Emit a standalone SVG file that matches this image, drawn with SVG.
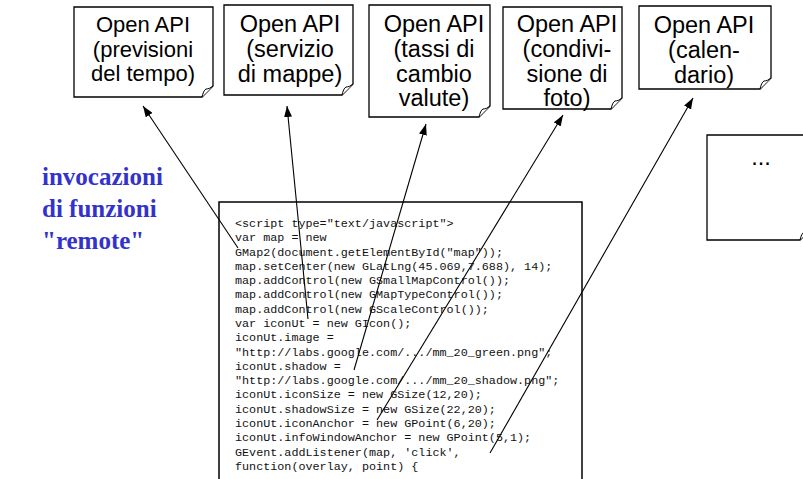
<svg xmlns="http://www.w3.org/2000/svg" width="803" height="479" viewBox="0 0 803 479">
<style>
.box{fill:#fff;stroke:#000;stroke-width:1.3}
.flap{fill:#fff;stroke:#000;stroke-width:1}
.bt{font-family:"Liberation Sans",Arial,sans-serif;font-size:23.5px;fill:#000;text-anchor:middle}
.code{font-family:"Liberation Mono","Courier New",monospace;font-size:11.75px;fill:#111}
.title{font-family:"Liberation Serif","Times New Roman",serif;font-size:25px;font-weight:bold;fill:#3333CC}
.conn{stroke:#000;stroke-width:1.1;fill:none;marker-end:url(#arr)}
</style>
<defs>
<marker id="arr" markerUnits="userSpaceOnUse" markerWidth="11" markerHeight="8" refX="11" refY="4" orient="auto">
<path d="M0,0 L11,4 L0,8 z" fill="#000"/>
</marker>
</defs>
<rect width="803" height="479" fill="#fff"/>

<g id="api1">
<path class="box" d="M74,7 H213 V86 L202,97 H74 Z"/>
<path class="flap" d="M202,97 C203,93 204,90 206,89 C208,89 211,88 213,86"/>
<text class="bt" style="font-size:22px" x="143" y="32">Open API</text>
<text class="bt" style="font-size:22px" x="143" y="56.5">(previsioni</text>
<text class="bt" style="font-size:22px" x="143" y="81">del tempo)</text>
</g>

<g id="api2">
<path class="box" d="M224,5 H353 V84 L342,95 H224 Z"/>
<path class="flap" d="M342,95 C343,91 344,88 346,87 C348,87 351,86 353,84"/>
<text class="bt" x="290" y="32">Open API</text>
<text class="bt" x="290" y="57">(servizio</text>
<text class="bt" x="290" y="82">di mappe)</text>
</g>

<g id="api3">
<path class="box" d="M369,5 H490 V106 L479,117 H369 Z"/>
<path class="flap" d="M479,117 C480,113 481,110 483,109 C485,109 488,108 490,106"/>
<text class="bt" x="434" y="32">Open API</text>
<text class="bt" x="434" y="57">(tassi di</text>
<text class="bt" x="434" y="81.5">cambio</text>
<text class="bt" x="434" y="106">valute)</text>
</g>

<g id="api4">
<path class="box" d="M503,7 H622 V98 L611,109 H503 Z"/>
<path class="flap" d="M611,109 C612,105 613,102 615,101 C617,101 620,100 622,98"/>
<text class="bt" x="567" y="32">Open API</text>
<text class="bt" x="567" y="57">(condivi-</text>
<text class="bt" x="567" y="82">sione di</text>
<text class="bt" x="567" y="106">foto)</text>
</g>

<g id="api5">
<path class="box" d="M639,6 H771 V78 L760,89 H639 Z"/>
<path class="flap" d="M760,89 C761,85 762,82 764,81 C766,81 769,80 771,78"/>
<text class="bt" x="704" y="33">Open API</text>
<text class="bt" x="704" y="58">(calen-</text>
<text class="bt" x="704" y="83">dario)</text>
</g>

<g id="api6">
<path class="box" d="M707,135 H811 V229 L800,240 H707 Z"/>
<path class="flap" d="M800,240 C801,236 802,233 804,232 C806,232 809,231 811,229"/>
<text class="bt" x="761" y="165">...</text>
</g>

<g id="title">
<text class="title" x="42" y="185">invocazioni</text>
<text class="title" x="42" y="217">di funzioni</text>
<text class="title" x="42" y="249">"remote"</text>
</g>

<g id="code">
<rect class="box" x="219" y="202" width="363" height="300" style="stroke-width:1.5"/>
<text class="code" x="235" y="227">&lt;script type="text/javascript"&gt;</text>
<text class="code" x="235" y="241.3">var map = new</text>
<text class="code" x="235" y="255.6">GMap2(document.getElementById("map"));</text>
<text class="code" x="235" y="269.8">map.setCenter(new GLatLng(45.069,7.688), 14);</text>
<text class="code" x="235" y="284.1">map.addControl(new GSmallMapControl());</text>
<text class="code" x="235" y="298.4">map.addControl(new GMapTypeControl());</text>
<text class="code" x="235" y="312.7">map.addControl(new GScaleControl());</text>
<text class="code" x="235" y="327">var iconUt = new GIcon();</text>
<text class="code" x="235" y="341.2">iconUt.image =</text>
<text class="code" x="235" y="355.5">"http://labs.google.com/.../mm_20_green.png";</text>
<text class="code" x="235" y="369.8">iconUt.shadow =</text>
<text class="code" x="235" y="384.1">"http://labs.google.com/.../mm_20_shadow.png";</text>
<text class="code" x="235" y="398.4">iconUt.iconSize = new GSize(12,20);</text>
<text class="code" x="235" y="412.6">iconUt.shadowSize = new GSize(22,20);</text>
<text class="code" x="235" y="426.9">iconUt.iconAnchor = new GPoint(6,20);</text>
<text class="code" x="235" y="441.2">iconUt.infoWindowAnchor = new GPoint(5,1);</text>
<text class="code" x="235" y="455.5">GEvent.addListener(map, 'click',</text>
<text class="code" x="235" y="469.8">function(overlay, point) {</text>
</g>

<g id="connectors">
<line class="conn" x1="238" y1="248" x2="143" y2="106"/>
<line class="conn" x1="308" y1="319" x2="287" y2="106"/>
<line class="conn" x1="354" y1="370" x2="426" y2="124"/>
<line class="conn" x1="377" y1="420" x2="563" y2="115"/>
<line class="conn" x1="490" y1="453" x2="693" y2="98"/>
</g>
</svg>
